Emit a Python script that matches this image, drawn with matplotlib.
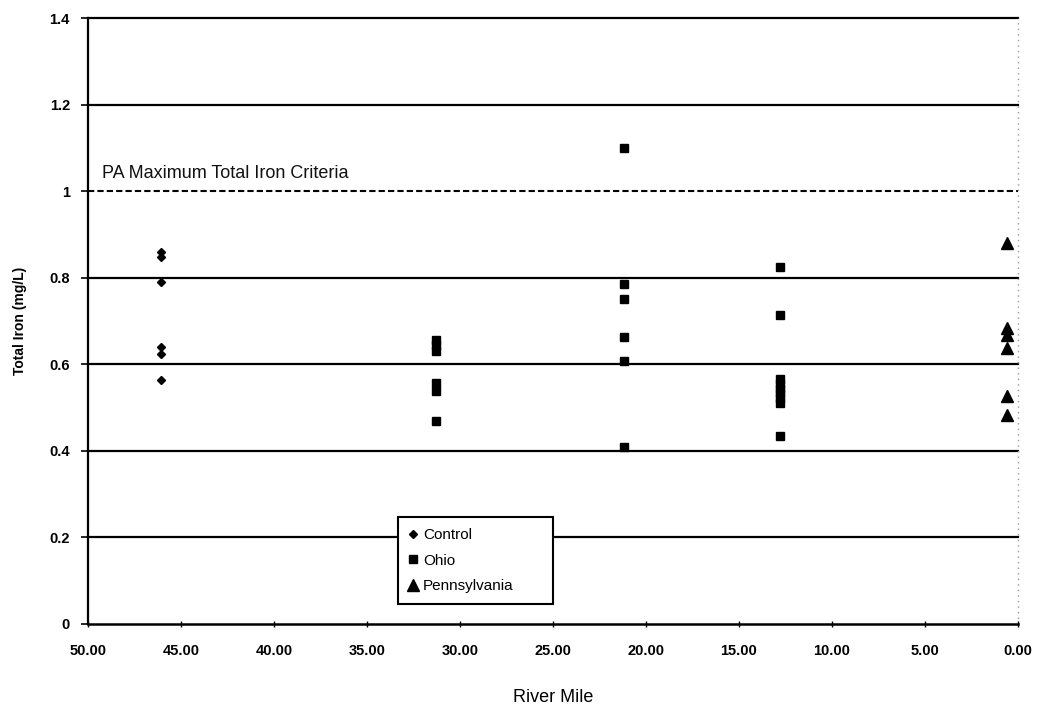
import matplotlib
matplotlib.use("Agg")
import matplotlib.pyplot as plt
from matplotlib.ticker import FixedLocator, FuncFormatter

plt.rcParams['font.family'] = ['Liberation Sans', 'DejaVu Sans']

# River mile of each sampling station
control_mile = [46.1] * 6
ohio_mile_a = [31.3] * 6
ohio_mile_b = [21.2] * 6
ohio_mile_c = [12.8] * 9
penn_mile = [0.6] * 6

# Total iron concentrations (mg/L)
control_fe = [0.86, 0.848, 0.79, 0.641, 0.625, 0.563]
ohio_fe_a = [0.657, 0.644, 0.63, 0.556, 0.538, 0.468]
ohio_fe_b = [1.10, 0.786, 0.75, 0.664, 0.607, 0.41]
ohio_fe_c = [0.825, 0.715, 0.566, 0.555, 0.544, 0.533, 0.522, 0.51, 0.434]
penn_fe = [0.88, 0.683, 0.667, 0.637, 0.526, 0.483]

criteria = 1.0
criteria_label = "PA Maximum Total Iron Criteria"
grid_levels = [0.2, 0.4, 0.6, 0.8, 1.2, 1.4]
x_ticks = [50, 45, 40, 35, 30, 25, 20, 15, 10, 5, 0]
y_ticks = [0, 0.2, 0.4, 0.6, 0.8, 1.0, 1.2, 1.4]
y_tick_labels = ["0", "0.2", "0.4", "0.6", "0.8", "1", "1.2", "1.4"]

fig = plt.figure(figsize=(10.4, 7.07), dpi=100)
ax = fig.add_axes([0.0846, 0.1174, 0.894, 0.857])

ax.set_xlim(50, 0)
ax.set_ylim(0, 1.4)

for lvl in grid_levels:
    ax.axhline(lvl, color="black", lw=1.6, zorder=1, clip_on=False)
ax.axhline(criteria, color="black", lw=1.5, ls=(0, (3, 1.5)), zorder=1)
ax.axvline(0, color="#9a9a9a", lw=1.0, ls=(0, (1, 3)), zorder=1,
           clip_on=False)

ax.text(49.25, 1.04, criteria_label, fontsize=13, color="#111111",
        ha="left", va="center")

ax.plot(control_mile, control_fe, ls="none", marker="D", ms=4.2,
        mfc="black", mec="black", label="Control", zorder=3)
ohio_miles = ohio_mile_a + ohio_mile_b + ohio_mile_c
ohio_fe = ohio_fe_a + ohio_fe_b + ohio_fe_c
ax.plot(ohio_miles, ohio_fe, ls="none", marker="s", ms=6.2,
        mfc="black", mec="black", label="Ohio", zorder=3)
ax.plot(penn_mile, penn_fe, ls="none", marker="^", ms=8,
        mfc="black", mec="black", label="Pennsylvania", zorder=3)

for side in ("top", "right"):
    ax.spines[side].set_visible(False)
ax.spines["left"].set_linewidth(1.6)
ax.spines["bottom"].set_linewidth(1.8)

ax.xaxis.set_major_locator(FixedLocator(x_ticks))
ax.xaxis.set_major_formatter(FuncFormatter(lambda v, p: f"{v:.2f}"))
ax.yaxis.set_major_locator(FixedLocator(y_ticks))
ax.set_yticklabels(y_tick_labels)
ax.tick_params(axis="y", direction="out", length=5, width=1.2,
               labelsize=10.5, pad=8)
ax.tick_params(axis="x", direction="inout", length=5, width=1.0,
               labelsize=10.5, pad=12)
for lab in ax.get_xticklabels() + ax.get_yticklabels():
    lab.set_fontweight("bold")

ax.set_xlabel("River Mile", fontsize=13, labelpad=22)
ax.set_ylabel("Total Iron (mg/L)", fontsize=10, fontweight="bold",
              labelpad=16)

leg = ax.legend(loc="upper left", bbox_to_anchor=(0.333, 0.036, 0.167, 0.14),
                mode="expand", fontsize=11, frameon=True, fancybox=False,
                handlelength=0.6, handletextpad=0.35, labelspacing=0.75,
                borderpad=0.7, borderaxespad=0)
leg.get_frame().set_edgecolor("black")
leg.get_frame().set_linewidth(1.5)
leg.get_frame().set_alpha(1)

fig.savefig("out.png", dpi=100)
